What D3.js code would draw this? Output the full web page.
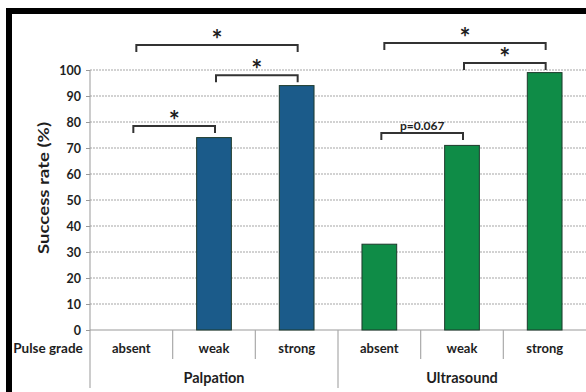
<!DOCTYPE html>
<html>
<head>
<meta charset="utf-8">
<script src="https://cdn.jsdelivr.net/npm/d3@7"></script>
<style>
  body { margin: 0; background: #fff; }
  text { font-family: Lato, "Open Sans", sans-serif; font-weight: bold; fill: #1e1e1e; }
</style>
</head>
<body>
<div id="chart"></div>
<script>
const w = 586;
const h = 392;

const groups = ["Palpation", "Ultrasound"];
const grades = ["absent", "weak", "strong"];
const palpation = [0, 74, 94];
const ultrasound = [33, 71, 99];
const yTicks = [0, 10, 20, 30, 40, 50, 60, 70, 80, 90, 100];
const colors = ["#1b5b8a", "#0f8c47"];

// brackets: group, from grade, to grade, level (%), label
const brackets = [
    ["Palpation", "absent", "weak", 78.5, "*"],
    ["Palpation", "weak", "strong", 98, "*"],
    ["Palpation", "absent", "strong", 109.6, "*"],
    ["Ultrasound", "absent", "weak", 75.8, "p=0.067"],
    ["Ultrasound", "weak", "strong", 102.7, "*"],
    ["Ultrasound", "absent", "strong", 110.4, "*"]
];

const rows = [];
groups.forEach((g, gi) => {
    const vals = gi == 0 ? palpation : ultrasound;
    grades.forEach((c, i) => rows.push({ key: g + "|" + c, group: g, grade: c, value: vals[i], gi: gi }));
});

const svg = d3.select("#chart").append("svg")
    .attr("width", w)
    .attr("height", h);

// frame
svg.append("rect").attr("x", 9).attr("y", 11).attr("width", 600).attr("height", 400)
    .attr("fill", "none").attr("stroke", "#000").attr("stroke-width", 6);

const x = d3.scaleBand()
    .domain(rows.map(d => d.key))
    .range([90, 586])
    .paddingInner(0).paddingOuter(0);

const y = d3.scaleLinear().domain([0, 100]).range([330, 70]);

// gridlines
svg.append("g").selectAll("line")
    .data(yTicks.filter(d => d > 0))
    .enter().append("line")
    .attr("x1", 90).attr("x2", w)
    .attr("y1", d => y(d)).attr("y2", d => y(d))
    .attr("stroke", "#c4c4c4").attr("stroke-width", 1.3)
    .attr("stroke-dasharray", "2,1");

// y axis
const yAxis = svg.append("g")
    .attr("transform", "translate(90,0)")
    .call(d3.axisLeft(y).tickValues(yTicks).tickSize(4).tickPadding(5));
yAxis.select(".domain").attr("stroke", "#999").attr("d", "M0,70V388");
yAxis.selectAll(".tick line").attr("stroke", "#999");
yAxis.selectAll(".tick text").style("font-size", "12.5px").attr("fill", "#1e1e1e");

// baseline
svg.append("line").attr("x1", 90).attr("x2", w).attr("y1", y(0)).attr("y2", y(0))
    .attr("stroke", "#999").attr("stroke-width", 1.2);

// y title
svg.append("text")
    .attr("transform", "translate(49,188) rotate(-90)")
    .attr("text-anchor", "middle")
    .attr("textLength", 132)
    .attr("lengthAdjust", "spacingAndGlyphs")
    .style("font-size", "16px")
    .text("Success rate (%)");

// bars
const bw = x.bandwidth() * 0.42;
svg.append("g").selectAll("rect")
    .data(rows.filter(d => d.value > 0))
    .enter().append("rect")
    .attr("x", d => x(d.key) + (x.bandwidth() - bw) / 2)
    .attr("y", d => y(d.value))
    .attr("width", bw)
    .attr("height", d => y(0) - y(d.value))
    .attr("fill", d => colors[d.gi])
    .attr("stroke", "#1d3a2c").attr("stroke-width", 1);

// category separators
svg.append("g").selectAll("line")
    .data(rows.slice(1))
    .enter().append("line")
    .attr("x1", d => x(d.key)).attr("x2", d => x(d.key))
    .attr("y1", y(0))
    .attr("y2", d => d.grade == "absent" ? 388 : 359)
    .attr("stroke", "#aaa").attr("stroke-width", 1.2);

// grade labels
svg.append("g").selectAll("text")
    .data(rows)
    .enter().append("text")
    .attr("x", d => x(d.key) + x.bandwidth() / 2)
    .attr("y", 353)
    .attr("text-anchor", "middle")
    .style("font-size", "13px")
    .text(d => d.grade);

svg.append("text").attr("x", 48).attr("y", 353).attr("text-anchor", "middle")
    .style("font-size", "13.5px").text("Pulse grade");

// group labels
svg.append("g").selectAll("text")
    .data(groups)
    .enter().append("text")
    .attr("x", g => (x(g + "|absent") + x(g + "|strong") + x.bandwidth()) / 2)
    .attr("y", 383)
    .attr("text-anchor", "middle")
    .style("font-size", "14.5px")
    .text(g => g);

// significance brackets
const bg = svg.append("g");
brackets.forEach(b => {
    const x1 = x(b[0] + "|" + b[1]) + x.bandwidth() / 2 + (b[1] == "absent" && b[2] == "strong" ? 5 : 2);
    const x2 = x(b[0] + "|" + b[2]) + x.bandwidth() / 2 + 1;
    const yy = y(b[3]);
    bg.append("path")
        .attr("d", "M" + x1 + "," + (yy + 7) + "V" + yy + "H" + x2 + "V" + (yy + 7))
        .attr("fill", "none").attr("stroke", "#333").attr("stroke-width", 2);
    if (b[4] == "*") {
        bg.append("text")
            .attr("x", (x1 + x2) / 2).attr("y", yy + 4)
            .attr("text-anchor", "middle")
            .style("font-size", "26px")
            .text("*");
    } else {
        bg.append("text")
            .attr("x", (x1 + x2) / 2).attr("y", yy - 3)
            .attr("text-anchor", "middle")
            .style("font-size", "12px")
            .text(b[4]);
    }
});
</script>
</body>
</html>
